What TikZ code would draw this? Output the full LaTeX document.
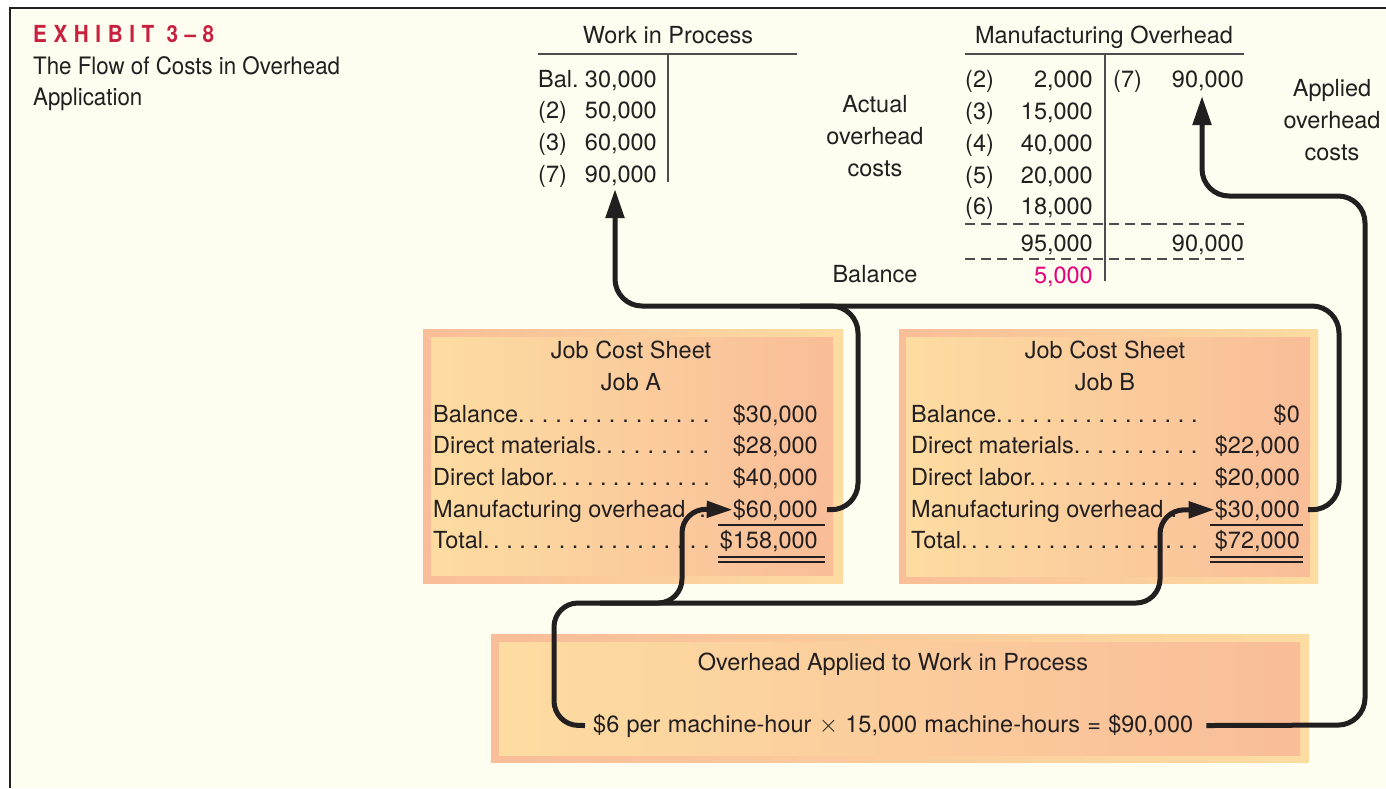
\documentclass[tikz,border=0pt]{standalone}
\usepackage{fontspec}
\setmainfont{TeX Gyre Heros}
\newfontfamily\exhibitfont[FakeStretch=0.88,LetterSpace=28]{TeX Gyre Heros}
\newfontfamily\captionfont[FakeStretch=0.93]{TeX Gyre Heros}
\usetikzlibrary{arrows.meta}

\definecolor{ink}{HTML}{231F20}
\definecolor{cream}{HTML}{FFFDEF}
\definecolor{salmon}{HTML}{F9BD98}
\definecolor{peach}{HTML}{FDDCA1}
\definecolor{crimson}{HTML}{C8203F}
\definecolor{balpink}{HTML}{E5007D}
\definecolor{tgray}{HTML}{4D4D4F}

% a label followed by a dot leader filling a box of the given width
\newcommand\dotrow[2]{\hbox to #1{#2\xleaders\hbox to 12.6pt{\hss.\hss}\hfill}}

\tikzset{
  txt/.style={inner sep=0pt, text=ink, font=\fontsize{23.5}{32}\selectfont},
  outerbox/.style={left color=salmon, right color=peach},
  innerbox/.style={left color=peach, right color=salmon},
  tline/.style={draw=tgray, line width=2pt},
  tdash/.style={draw=tgray, line width=1.6pt, dash pattern=on 10pt off 6pt},
  uline/.style={draw=ink, line width=2pt},
  dline/.style={draw=ink, line width=1.6pt},
  flowline/.style={draw=ink, line width=5pt, rounded corners=27pt},
  flowup/.style={flowline, -{Triangle[length=29pt,width=18pt]}},
  flowright/.style={flowline, rounded corners=24pt, -{Triangle[length=26pt,width=16pt]}},
}

\begin{document}
\begin{tikzpicture}[x=1pt,y=-1pt]
\useasboundingbox (0,0) rectangle (1386,788);
\fill[white] (0,0) rectangle (1386,788);
\fill[cream] (10,8) rectangle (1386,788);
\draw[ink, line width=2.5pt] (10,788) -- (10,8) -- (1386,8);

% heading
\node[inner sep=0pt, anchor=base west, text=crimson,
      font=\exhibitfont\bfseries\fontsize{23.5}{28}\selectfont] (exhibit) at (33,42) {EXHIBIT 3–8};
\node[txt, anchor=base west, font=\captionfont\fontsize{24}{31}\selectfont] (cap1) at (33,74) {The Flow of Costs in Overhead};
\node[txt, anchor=base west, font=\captionfont\fontsize{24}{31}\selectfont] (cap2) at (33,105) {Application};

% Work in Process T-account
\node[txt, anchor=base] (wiptitle) at (668,43) {Work in Process};
\draw[tline] (538,54) -- (797,54);
\draw[tline] (668,54) -- (668,182);
\node[txt, anchor=base west] (wipl1) at (538,87) {Bal.};
\node[txt, anchor=base west] (wipl2) at (538,118) {(2)};
\node[txt, anchor=base west] (wipl3) at (538,150) {(3)};
\node[txt, anchor=base west] (wipl4) at (538,182) {(7)};
\node[txt, anchor=base east] (wip1) at (657,87) {30,000};
\node[txt, anchor=base east] (wip2) at (657,118) {50,000};
\node[txt, anchor=base east] (wip3) at (657,150) {60,000};
\node[txt, anchor=base east] (wip7) at (657,182) {90,000};

% Manufacturing Overhead T-account
\node[txt, anchor=base] (mohtitle) at (1104,43) {Manufacturing Overhead};
\draw[tline] (965,54) -- (1244,54);
\draw[tline] (1105,54) -- (1105,281);
\draw[tdash] (965,224) -- (1244,224);
\draw[tdash] (965,259) -- (1244,259);
\foreach \lab/\amt/\yy [count=\i] in {(2)/2{,}000/87,(3)/15{,}000/119,(4)/40{,}000/151,(5)/20{,}000/183,(6)/18{,}000/214}{
  \node[txt, anchor=base west] (mohl\i) at (965,\yy) {\lab};
  \node[txt, anchor=base east] (moha\i) at (1093,\yy) {\amt};
}
\node[txt, anchor=base west] (mohr7l) at (1113,87) {(7)};
\node[txt, anchor=base east] (moh7) at (1244,87) {90,000};
\node[txt, anchor=base east] (mohdr) at (1093,251) {95,000};
\node[txt, anchor=base east] (mohcr) at (1244,251) {90,000};
\node[txt, anchor=base east, text=balpink] (mohbal) at (1093,283) {5,000};

% side captions
\node[txt, anchor=base] (act1) at (875,112) {Actual};
\node[txt, anchor=base] (act2) at (875,144) {overhead};
\node[txt, anchor=base] (act3) at (875,176) {costs};
\node[txt, anchor=base] (balance) at (875,282) {Balance};
\node[txt, anchor=base] (app1) at (1332,96) {Applied};
\node[txt, anchor=base] (app2) at (1332,128) {overhead};
\node[txt, anchor=base] (app3) at (1332,160) {costs};

% Job A cost sheet
\shade[outerbox] (423,329) rectangle (843,583);
\shade[innerbox] (431,337) rectangle (833,575);
\node[txt, anchor=base] (jatitle) at (631,358) {Job Cost Sheet};
\node[txt, anchor=base] (janame) at (631,390) {Job A};
\foreach \lab/\amt/\yy [count=\i] in {Balance./\$30{,}000/422,Direct materials./\$28{,}000/453.5,Direct labor./\$40{,}000/485,Manufacturing overhead./\$60{,}000/517,Total./\$158{,}000/548.5}{
  \node[txt, anchor=base west] (jal\i) at (433,\yy) {\dotrow{280pt}{\lab}};
  \node[txt, anchor=base east] (ja\i) at (818,\yy) {\amt};
}
\draw[uline] (718,525) -- (825,525);
\draw[dline] (718,557) -- (825,557);
\draw[dline] (718,562) -- (825,562);

% Job B cost sheet
\shade[outerbox] (899,329) rectangle (1318,583);
\shade[innerbox] (906,337) rectangle (1310,576);
\node[txt, anchor=base] (jbtitle) at (1105,358) {Job Cost Sheet};
\node[txt, anchor=base] (jbname) at (1105,390) {Job B};
\foreach \lab/\amt/\yy [count=\i] in {Balance./\$0/422,Direct materials./\$22{,}000/453.5,Direct labor./\$20{,}000/485,Manufacturing overhead/\$30{,}000/517,Total./\$72{,}000/548.5}{
  \node[txt, anchor=base west] (jbl\i) at (911,\yy) {\dotrow{290pt}{\lab}};
  \node[txt, anchor=base east] (jb\i) at (1300,\yy) {\amt};
}
\draw[uline] (1210,525) -- (1303,525);
\draw[dline] (1210,557) -- (1303,557);
\draw[dline] (1210,562) -- (1303,562);

% overhead application box
\shade[outerbox] (491,634) rectangle (1309,762);
\shade[innerbox] (499,642) rectangle (1300,755);
\node[txt, anchor=base] (applied) at (893,670) {Overhead Applied to Work in Process};
\node[txt, anchor=base west] (rate) at (593,732) {\hbox to 600pt{\$6 per machine-hour $\times$ 15,000 machine-hours = \$90,000}};

% arrow ends
\coordinate (wipin) at (615,189);
\coordinate (mohin) at (1202,96);

% job costs carried to Work in Process
\draw[flowline] ([xshift=8pt]jb4.east) -- (1339,510) -- (1339,306) -- (800,306);
\draw[flowup] ([xshift=9pt]ja4.east) -- (858,510) -- (858,306) -- (615,306) -- (wipin);

% applied overhead credited to Manufacturing Overhead
\draw[flowup] ([xshift=13pt]rate.east) -- (1365,725) -- (1365,196) -- (1202,196) -- (mohin);

% applied overhead charged to the jobs
\draw[flowright] ([xshift=-8pt]rate.west) -- (554,725) -- (554,603) -- (1160,603) -- (1160,510) -- (jb4.west);
\draw[flowright] (600,603) -- (682,603) -- (682,509) -- (ja4.west);
\end{tikzpicture}
\end{document}
